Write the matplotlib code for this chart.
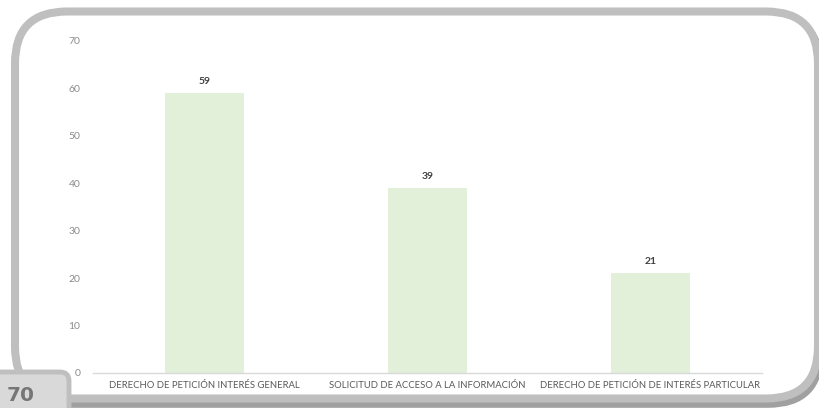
import numpy as np
import matplotlib.pyplot as plt
from matplotlib.patches import FancyBboxPatch

# Data
categories = ['DERECHO DE PETICIÓN INTERÉS GENERAL',
              'SOLICITUD DE ACCESO A LA INFORMACIÓN',
              'DERECHO DE PETICIÓN DE INTERÉS PARTICULAR']
values = [59, 39, 21]
y_ticks = [0, 10, 20, 30, 40, 50, 60, 70]
page_number = '70'

W, H = 819, 408
plt.rcParams['font.family'] = ['Lato', 'DejaVu Sans']

fig = plt.figure(figsize=(W / 100, H / 100), dpi=100)
fig.patch.set_facecolor('white')

# Background layer in pixel coordinates for the frame and the page tab
bg = fig.add_axes([0, 0, 1, 1])
bg.set_xlim(0, W)
bg.set_ylim(H, 0)
bg.axis('off')

# shadow first, then the frame with a white fill hides its inner part
shadow = FancyBboxPatch((17, 15), 803, 389, boxstyle='round,pad=0,rounding_size=52',
                        facecolor='none', edgecolor='#a0a0a0', linewidth=5.5)
bg.add_patch(shadow)
frame = FancyBboxPatch((15, 11.5), 803, 387, boxstyle='round,pad=0,rounding_size=52',
                       facecolor='white', edgecolor='#bfbfbf', linewidth=5.8)
bg.add_patch(frame)

# page tab
tab = FancyBboxPatch((-20, 372), 89, 60, boxstyle='round,pad=0,rounding_size=9',
                     facecolor='#d9d9d9', edgecolor='#bfbfbf', linewidth=3.5)
bg.add_patch(tab)
bg.text(20.5, 395.5, page_number, fontsize=14.5, fontweight='bold', color='#767676',
        ha='center', va='center', family=['DejaVu Sans'])

# Chart
ax = fig.add_axes([93 / W, 1 - 373 / H, (762 - 93) / W, (373 - 41) / H])
ax.set_facecolor('none')
x = np.arange(len(categories))
bars = ax.bar(x, values, width=0.354, color='#e2efd9', zorder=2)
ax.set_xlim(-0.5, len(categories) - 0.5)
ax.set_ylim(0, 70)
ax.set_yticks(y_ticks)
ax.set_xticks(x)
ax.set_xticklabels(categories, fontsize=6.8, color='#595959')
ax.tick_params(axis='y', length=0, pad=9, labelsize=7.5, labelcolor='#8c8c8c')
ax.tick_params(axis='x', length=0, pad=6)
for side in ['top', 'right', 'left']:
    ax.spines[side].set_visible(False)
ax.spines['bottom'].set_color('#d9d9d9')
ax.spines['bottom'].set_linewidth(1)

for b, v in zip(bars, values):
    ax.annotate(str(v), (b.get_x() + b.get_width() / 2, v), xytext=(0, 5),
                textcoords='offset points', ha='center', va='bottom',
                fontsize=7.5, fontweight='bold', color='#404040')

fig.savefig('out.png', dpi=100)
